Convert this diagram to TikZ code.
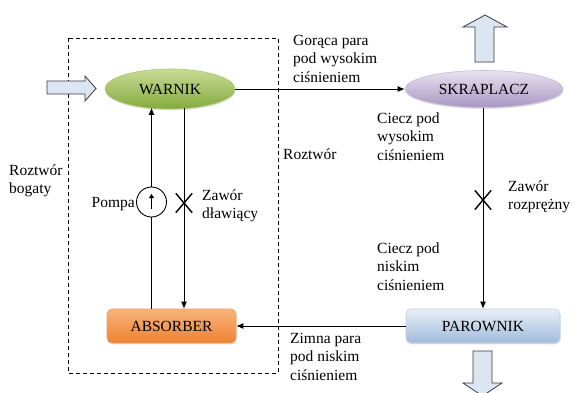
\documentclass[tikz,border=0pt]{standalone}
\usepackage{fontspec}
\setmainfont{Liberation Serif}
\usetikzlibrary{shapes.geometric,shapes.misc,arrows.meta,shadows}
\definecolor{arrowfill}{HTML}{DCE6F2}
\definecolor{arrowdraw}{HTML}{3A3A3A}
\tikzset{
  txt/.style={font=\rmfamily\fontsize{15.5}{18.5}\selectfont},
  lbl/.style={txt, align=left, inner sep=0pt, anchor=base west},
  conn/.style={line width=0.9pt, black},
  tip/.style={-{Latex[length=7pt,width=6pt]}},
  blockarrow/.style={fill=arrowfill, draw=arrowdraw, line width=0.8pt, line join=miter},
  soft/.style={drop shadow={shadow xshift=0.6pt, shadow yshift=-1.4pt, opacity=0.25}},
  greenell/.style={ellipse, txt, inner sep=0pt, minimum width=130pt, minimum height=40pt,
     top color={rgb,255:red,200;green,220;blue,150}, bottom color={rgb,255:red,132;green,170;blue,60},
     draw={rgb,255:red,170;green,200;blue,110}, line width=0.6pt, soft},
  purpleell/.style={ellipse, txt, inner sep=0pt, minimum width=158pt, minimum height=37pt,
     top color={rgb,255:red,232;green,226;blue,240}, bottom color={rgb,255:red,168;green,150;blue,194},
     draw={rgb,255:red,200;green,188;blue,215}, line width=0.6pt, soft},
  orangebox/.style={rectangle, rounded corners=5pt, txt, inner sep=0pt, minimum width=129pt, minimum height=34pt,
     top color={rgb,255:red,250;green,180;blue,125}, bottom color={rgb,255:red,236;green,130;blue,50},
     draw={rgb,255:red,245;green,160;blue,95}, line width=0.6pt, soft},
  bluebox/.style={rectangle, rounded corners=5pt, txt, inner sep=0pt, minimum width=154pt, minimum height=34pt,
     top color={rgb,255:red,232;green,239;blue,247}, bottom color={rgb,255:red,160;green,186;blue,218},
     draw={rgb,255:red,190;green,208;blue,230}, line width=0.6pt, soft},
  pumpc/.style={circle, draw, line width=0.9pt, minimum size=30pt, inner sep=0pt, fill=white},
  valve/.style={cross out, draw, line width=1.4pt, minimum width=15pt, minimum height=18pt, inner sep=0pt},
}
\begin{document}
\begin{tikzpicture}[x=1pt,y=-1pt]
\useasboundingbox (0,0) rectangle (574,392);
\clip (0,0) rectangle (574,392);

% dashed boundary
\draw[dashed, line width=0.8pt, dash pattern=on 4pt off 3pt] (68,38) rectangle (278,373);

% nodes
\node[greenell] (warnik) at (170,89) {WARNIK};
\node[purpleell] (skraplacz) at (484,89) {SKRAPLACZ};
\node[orangebox] (absorber) at (171.5,326) {ABSORBER};
\node[bluebox] (parownik) at (483,326) {PAROWNIK};

\node[pumpc] (pump) at (151.5,202) {};
\coordinate (valveA) at (184,203);
\coordinate (valveB) at (483,200);

% connectors
\draw[conn,tip] (warnik.east) -- (skraplacz.west);
\draw[conn,tip] (skraplacz.south -| valveB) -- (parownik.north -| valveB);
\draw[conn,tip] (parownik.west) -- (absorber.east);
\draw[conn] (absorber.north -| pump) -- (pump.south);
\draw[conn,tip] (pump.north) -- ([yshift=1.5pt]pump |- warnik.south);
\draw[conn,tip] ([yshift=1pt]valveA |- warnik.south) -- (valveA |- absorber.north);

% pump arrow inside circle
\draw[line width=1.1pt, -{Triangle[length=4pt,width=5pt]}] ([yshift=-7pt]pump.center) -- ([yshift=8pt]pump.center);

% valves
\node[valve] (v1) at (valveA) {};
\node[valve] (v2) at (valveB) {};

% block arrows
\draw[blockarrow] (47,81) -- (85,81) -- (85,76) -- (96,88.5) -- (85,101) -- (85,94) -- (47,94) -- cycle;
\draw[blockarrow] (475,62) -- (475,27) -- (463,27) -- (485,15) -- (507,27) -- (494,27) -- (494,62) -- cycle;
\draw[blockarrow] (473,351) -- (492,351) -- (492,383) -- (502,383) -- (482.5,396) -- (463,383) -- (473,383) -- cycle;

% labels (anchor = baseline of last line)
\node[lbl] (l1) at (293,82) {Gorąca para\\pod wysokim\\ciśnieniem};
\node[lbl] (l2) at (377,160) {Ciecz pod\\wysokim\\ciśnieniem};
\node[lbl] (l3) at (283,159) {Roztwór};
\node[lbl] (l4) at (508,209.5) {Zawór\\rozprężny};
\node[lbl] (l5) at (377,290) {Ciecz pod\\niskim\\ciśnieniem};
\node[lbl] (l6) at (290,380) {Zimna para\\pod niskim\\ciśnieniem};
\node[lbl] (l7) at (9,193.5) {Roztwór\\bogaty};
\node[txt, inner sep=0pt, anchor=base east] (l8) at (135,207) {Pompa};
\node[lbl] (l9) at (202,218.5) {Zawór\\dławiący};
\end{tikzpicture}
\end{document}
